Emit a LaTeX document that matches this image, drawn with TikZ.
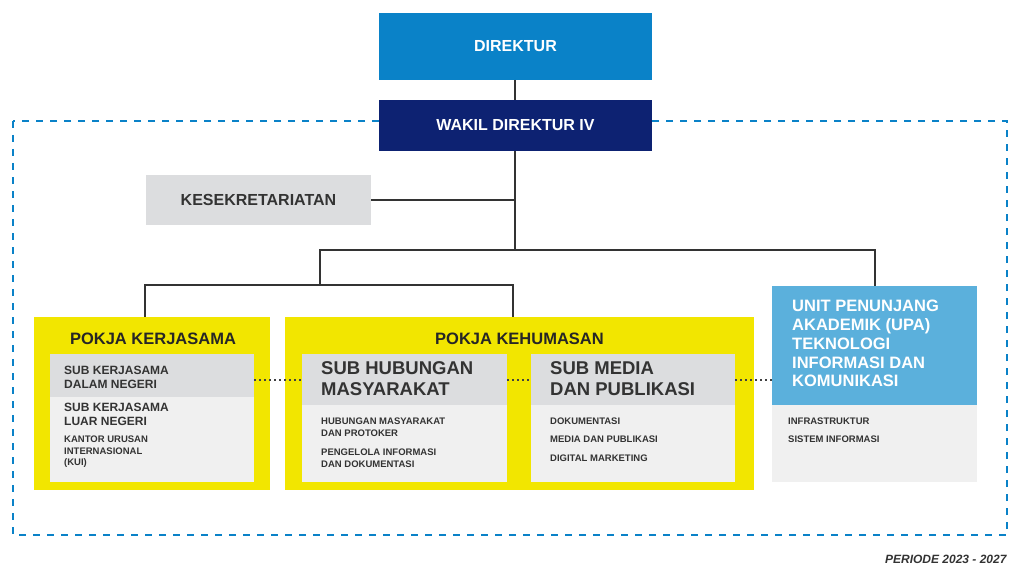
\documentclass[tikz,border=0pt]{standalone}
\usepackage{fontspec}
\setmainfont{Liberation Sans}
\newcommand{\fs}[2]{\fontsize{#1}{#2}\selectfont\bfseries}
\begin{document}
\begin{tikzpicture}[x=1pt,y=-1pt,
  conn/.style={draw=black!80,line width=1.2pt},
  dots/.style={draw=black!75,line width=1.4pt,dash pattern=on 2pt off 3pt},
  lbl/.style={text=black!80,align=left,anchor=north west,inner sep=0pt}]
\definecolor{dblue}{HTML}{0A82C8}
\definecolor{navy}{HTML}{0D2272}
\definecolor{lblue}{HTML}{5BB0DC}
\definecolor{gr1}{HTML}{DCDDDF}
\definecolor{gr2}{HTML}{F0F0F0}
\definecolor{ylw}{HTML}{F2E600}
\useasboundingbox (0,0) rectangle (1024,572);
% dashed frame
\draw[dblue,line width=2.5pt,dash pattern=on 7pt off 7pt] (13,121) rectangle (1007,535);
% boxes
\fill[dblue] (379,13) rectangle (652,80);
\node[font=\fs{16}{19},text=white] (dir) at (515.5,46.5) {DIREKTUR};
\fill[navy] (379,100) rectangle (652,151);
\node[font=\fs{16}{19},text=white] (wak) at (515.5,125.5) {WAKIL DIREKTUR IV};
\coordinate (dirb) at (515,80); \coordinate (wakt) at (515,100); \coordinate (wakb) at (515,151);
\fill[gr1] (146,175) rectangle (371,225);
\node[font=\fs{16}{19},text=black!80] (kes) at (258.5,200) {KESEKRETARIATAN};
% connectors
\coordinate (kesr) at (371,200); \coordinate (j1) at (515,200); \coordinate (j2) at (515,250);
\coordinate (hl) at (320,250); \coordinate (hr) at (875,250);
\coordinate (hl2) at (320,285); \coordinate (a) at (145,285); \coordinate (b) at (513,285);
\coordinate (a2) at (145,317); \coordinate (b2) at (513,317); \coordinate (c2) at (875,287);
\draw[conn] (dirb) -- (wakt);
\draw[conn] (wakb) -- (j2);
\draw[conn] (kesr) -- (j1);
\draw[conn] (hl2) -- (hl) -- (hr) -- (c2);
\draw[conn] (a2) -- (a) -- (b) -- (b2);
% Pokja Kerjasama
\fill[ylw] (34,317) rectangle (270,490);
\node[font=\fs{16.5}{19},text=black!85] (pk) at (153,339) {POKJA KERJASAMA};
\fill[gr2] (50,354) rectangle (254,482);
\fill[gr1] (50,354) rectangle (254,397);
\node[lbl,font=\fs{12}{14}] (s1) at (64,366) {SUB KERJASAMA\\DALAM NEGERI};
\node[lbl,font=\fs{12}{14}] (s2) at (64,403) {SUB KERJASAMA\\LUAR NEGERI};
\node[lbl,font=\fs{9.5}{11.5}] (s3) at (64,436) {KANTOR URUSAN\\INTERNASIONAL\\(KUI)};
% Pokja Kehumasan
\fill[ylw] (285,317) rectangle (754,490);
\node[font=\fs{16.5}{19},text=black!85] (ph) at (519.5,339) {POKJA KEHUMASAN};
\fill[gr2] (302,354) rectangle (507,482);
\fill[gr1] (302,354) rectangle (507,405);
\node[lbl,font=\fs{18.5}{21}] (h1) at (321,361) {SUB HUBUNGAN\\MASYARAKAT};
\node[lbl,font=\fs{9.5}{11.5}] (h2) at (321,418) {HUBUNGAN MASYARAKAT\\DAN PROTOKER};
\node[lbl,font=\fs{9.5}{11.5}] (h3) at (321,449) {PENGELOLA INFORMASI\\DAN DOKUMENTASI};
\fill[gr2] (531,354) rectangle (735,482);
\fill[gr1] (531,354) rectangle (735,405);
\node[lbl,font=\fs{18.5}{21}] (m1) at (550,361) {SUB MEDIA\\DAN PUBLIKASI};
\node[lbl,font=\fs{9.5}{11.5}] (m2) at (550,418) {DOKUMENTASI};
\node[lbl,font=\fs{9.5}{11.5}] (m3) at (550,436) {MEDIA DAN PUBLIKASI};
\node[lbl,font=\fs{9.5}{11.5}] (m4) at (550,455) {DIGITAL MARKETING};
% UPA
\fill[gr2] (772,405) rectangle (977,482);
\fill[lblue] (772,286) rectangle (977,405);
\node[lbl,font=\fs{16.5}{18.8},text=white] (u1) at (792,300) {UNIT PENUNJANG\\AKADEMIK (UPA)\\TEKNOLOGI\\INFORMASI DAN\\KOMUNIKASI};
\node[lbl,font=\fs{9.5}{11.5}] (u2) at (788,418) {INFRASTRUKTUR};
\node[lbl,font=\fs{9.5}{11.5}] (u3) at (788,436) {SISTEM INFORMASI};
% dotted links
\coordinate (d1) at (254,380); \coordinate (d2) at (302,380);
\coordinate (d3) at (507,380); \coordinate (d4) at (531,380);
\coordinate (d5) at (735,380); \coordinate (d6) at (772,380);
\draw[dots] (d1) -- (d2); \draw[dots] (d3) -- (d4); \draw[dots] (d5) -- (d6);
\node[font=\fs{12}{14}\itshape,text=black!80,anchor=east] (per) at (1010,559) {PERIODE 2023 - 2027};
\end{tikzpicture}
\end{document}
